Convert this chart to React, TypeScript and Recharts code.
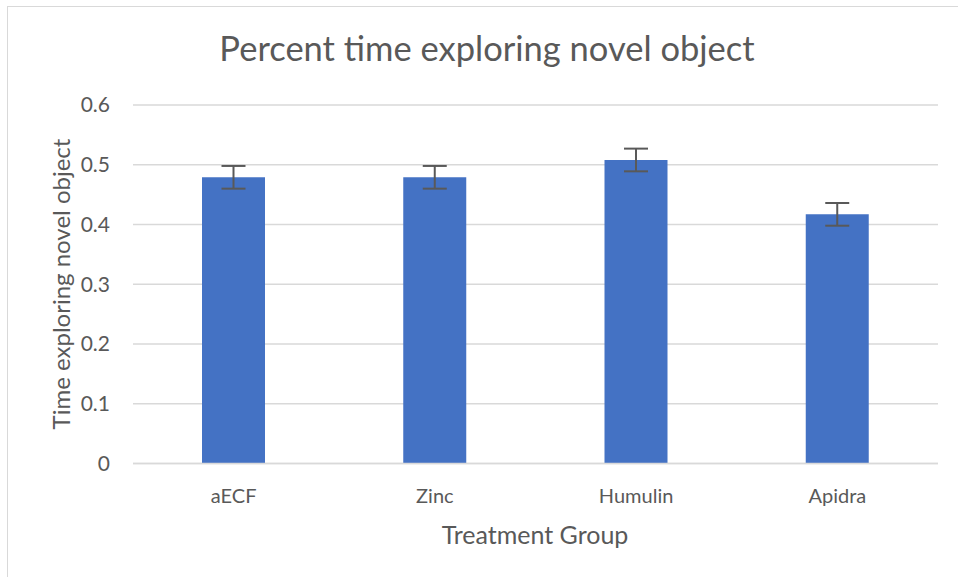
import React from 'react';
import { BarChart, Bar, XAxis, YAxis, CartesianGrid, ErrorBar } from 'recharts';

const groups = ['aECF', 'Zinc', 'Humulin', 'Apidra'];
const means = [0.479, 0.479, 0.508, 0.417];
const errors = [0.019, 0.019, 0.019, 0.019];
const yTicks = [0, 0.1, 0.2, 0.3, 0.4, 0.5, 0.6];

const data = groups.map((g, i) => ({ group: g, value: means[i], err: errors[i] }));

const FONT = 'Lato, "Open Sans", sans-serif';
const TEXT = '#595959';

const App: React.FC = () => {
  return (
    <div style={{ position: 'absolute', left: 0, top: 0, width: 958, height: 577, background: '#fff', fontFamily: FONT, overflow: 'hidden' }}>
      <div style={{ position: 'absolute', left: 7, top: 6, width: 960, height: 580, borderLeft: '1.5px solid #d9d9d9', borderTop: '1.5px solid #d9d9d9' }} />
      <div style={{ position: 'absolute', left: 0, top: 28, width: 974, textAlign: 'center', fontSize: 34.5, lineHeight: '40px', color: TEXT }}>
        Percent time exploring novel object
      </div>
      <div style={{ position: 'absolute', left: 60, top: 284, transform: 'translate(-50%, -50%) rotate(-90deg)', whiteSpace: 'nowrap', fontSize: 24, color: TEXT }}>
        Time exploring novel object
      </div>
      <div style={{ position: 'absolute', left: 0, top: 519, width: 1070, textAlign: 'center', fontSize: 25, lineHeight: '30px', color: TEXT }}>
        Treatment Group
      </div>
      <div style={{ position: 'absolute', left: 0, top: 0 }}>
        <BarChart width={958} height={577} data={data} margin={{ top: 105, right: 20, left: 0, bottom: 0 }}>
          <CartesianGrid vertical={false} stroke="#d9d9d9" strokeWidth={1.5} />
          <XAxis
            dataKey="group"
            height={113.5}
            axisLine={{ stroke: '#d9d9d9', strokeWidth: 1.5 }}
            tickLine={false}
            tickMargin={19}
            tick={{ fill: TEXT, fontSize: 20, fontFamily: FONT }}
          />
          <YAxis
            width={133}
            domain={[0, 0.6]}
            ticks={yTicks}
            axisLine={false}
            tickLine={false}
            tickMargin={17}
            tick={{ fill: TEXT, fontSize: 21, fontFamily: FONT }}
          />
          <Bar dataKey="value" fill="#4472C4" barSize={63} isAnimationActive={false}>
            <ErrorBar dataKey="err" width={12} stroke="#595959" strokeWidth={2} isAnimationActive={false} />
          </Bar>
        </BarChart>
      </div>
    </div>
  );
};

export default App;
